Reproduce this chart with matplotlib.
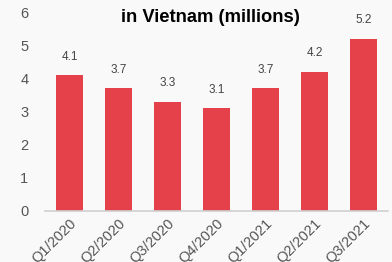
import matplotlib.pyplot as plt

quarters = ["Q1/2020", "Q2/2020", "Q3/2020", "Q4/2020", "Q1/2021", "Q2/2021", "Q3/2021"]
values = [4.1, 3.7, 3.3, 3.1, 3.7, 4.2, 5.2]

bg = "#f9f9f9"
bar_color = "#e5414b"
text_grey = "#555555"

plt.rcParams["font.family"] = ["Liberation Sans", "DejaVu Sans"]

fig = plt.figure(figsize=(3.92, 2.62), dpi=100, facecolor=bg)
ax = fig.add_axes([45 / 392, 51 / 262, 343 / 392, 199 / 262], facecolor=bg)

x = range(len(quarters))
bars = ax.bar(x, values, width=0.55, color=bar_color)
for xi, v in zip(x, values):
    ax.annotate(f"{v:.1f}", (xi, v), xytext=(0, 9), textcoords="offset points",
                ha="center", va="bottom", fontsize=8.5, color="#444444")

ax.set_xlim(-0.5, 6.5)
ax.set_ylim(0, 6)
ax.set_yticks(range(7))
ax.set_xticks(list(x))
ax.set_xticklabels(quarters, rotation=45, ha="right", rotation_mode="anchor")
ax.tick_params(axis="both", length=0, labelsize=10.5, colors=text_grey)
ax.tick_params(axis="y", pad=12)
ax.tick_params(axis="x", pad=4)
for s in ["top", "right", "left"]:
    ax.spines[s].set_visible(False)
ax.spines["bottom"].set_color("#d0d0d0")
ax.spines["bottom"].set_linewidth(1.2)

fig.text(0.538, 0.932, "in Vietnam (millions)", ha="center", va="center",
         fontsize=13.2, fontweight="bold", color="black")

fig.savefig("out.png", dpi=100, facecolor=bg)
